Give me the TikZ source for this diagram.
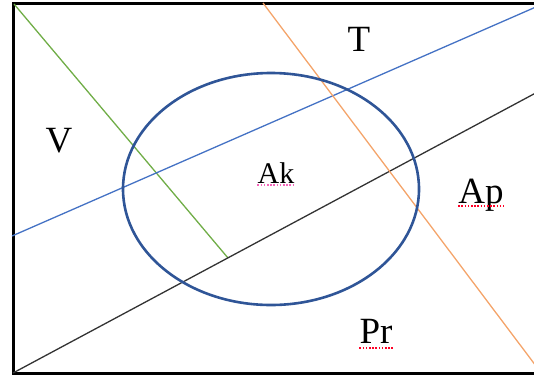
\documentclass[tikz,border=0pt]{standalone}
\usepackage{fontspec}
\setmainfont{Liberation Serif}
\definecolor{ringblue}{HTML}{2F5597}
\definecolor{lineblue}{HTML}{4472C4}
\definecolor{lineorange}{HTML}{F4A46A}
\definecolor{linegreen}{HTML}{70AD47}
\begin{document}
\begin{tikzpicture}[x=1pt,y=-1pt,
  frame/.style={line width=3pt,black},
  ring/.style={line width=2.6pt,ringblue},
  cut/.style={line width=1.3pt},
  region/.style={inner sep=0pt,anchor=base,font=\fontsize{37}{40}\selectfont},
  spell/.style={line width=1.3pt,red!85!magenta,dash pattern=on 1.6pt off 1.6pt}]
  \useasboundingbox (0,0) rectangle (534,378);
  \clip (0,0) rectangle (534,378);
  % Outer frame (its right side lies past the picture edge).
  \draw[frame] (13,3) rectangle (545,373);
  % End points of the four cutting lines.
  \coordinate (gtop) at (14,4);
  \coordinate (gfoot) at (228,258);
  \coordinate (bleft) at (12,236);
  \coordinate (bright) at (545,3);
  \coordinate (kleft) at (13,373);
  \coordinate (kright) at (545,88);
  \coordinate (otop) at (263,3);
  \coordinate (obot) at (545,378);
  \draw[cut,linegreen] (gtop) -- (gfoot);
  \draw[cut,lineblue] (bleft) -- (bright);
  \draw[cut,black!80] (kleft) -- (kright);
  \draw[cut,lineorange] (otop) -- (obot);
  % The ring in the middle.
  \draw[ring] (271,189) ellipse [x radius=148,y radius=116];
  % Region names.
  \node[region] (v) at (59,152) {V};
  \node[region] (t) at (359,51) {T};
  \node[region,font=\fontsize{30}{33}\selectfont] (ak) at (276,183) {Ak};
  \node[region] (ap) at (481,203) {Ap};
  \node[region] (pr) at (376,343) {Pr};
  % Spell-check marks under three names.
  \draw[spell,magenta!60] ([yshift=-2pt]ak.base west) -- ([yshift=-2pt]ak.base east);
  \draw[spell] ([yshift=-3pt]ap.base west) -- ([yshift=-3pt]ap.base east);
  \draw[spell] ([yshift=-5pt]pr.base west) -- ([yshift=-5pt]pr.base east);
\end{tikzpicture}
\end{document}
